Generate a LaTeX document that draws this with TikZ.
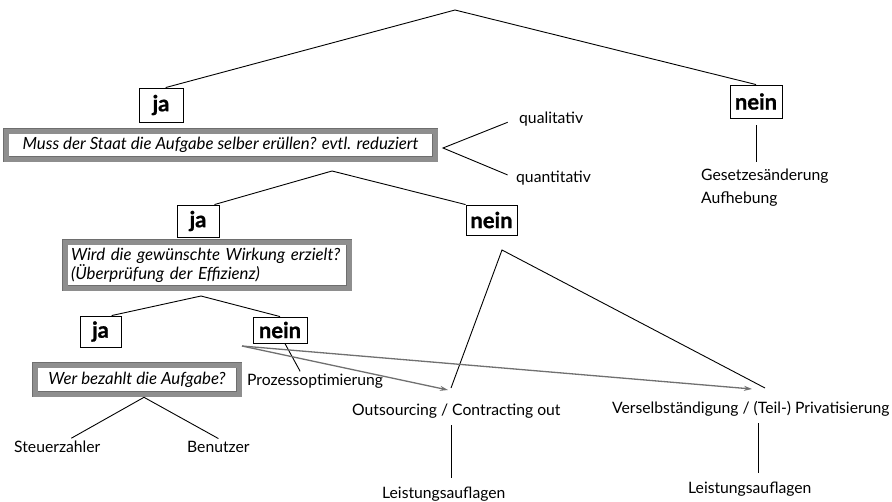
\documentclass[tikz,border=0pt]{standalone}
\usepackage{fontspec}
\setmainfont{Lato}
\newfontfamily\heavyfont[FakeBold=1.2]{Lato}
\usetikzlibrary{positioning,arrows.meta,calc}
\definecolor{framegray}{HTML}{8E8E8E}
\definecolor{framedark}{HTML}{6E6E6E}
\definecolor{arrowgray}{HTML}{707070}

\begin{document}
\begin{tikzpicture}[
		x=1pt, y=-1pt,
		answernode/.style={rectangle, draw=black, line width=0.9pt, fill=white, font=\fontsize{22}{24}\heavyfont\bfseries, inner sep=0pt, minimum height=31pt},
		questionnode/.style={rectangle, draw=framedark, double=framegray, double distance=5pt, line width=0.6pt, fill=white, font=\fontsize{16.8}{17}\selectfont\itshape, align=left, inner sep=0pt},
		textnode/.style={font=\fontsize{15.7}{17}\selectfont, inner sep=2pt},
		connector/.style={black, line width=0.9pt},
		grayarrow/.style={arrowgray, line width=1.3pt, -{Stealth[length=8pt,width=5pt]}},
		]
		\useasboundingbox (0,0) rectangle (892,501);
		
		%Nodes
		\node[answernode, minimum width=44pt, minimum height=34pt](ja1) at (161,105){ja};
		\node[answernode, minimum width=52pt, minimum height=33pt](nein1) at (756,101.5){nein};
		\node[questionnode, minimum width=429pt, minimum height=28pt](muss) at (220.5,145){Muss der Staat die Aufgabe selber erüllen? evtl. reduziert};
		\node[textnode, anchor=base west](qual) at (517,123){qualitativ};
		\node[textnode, anchor=base west](quant) at (514,182){quantitativ};
		\node[textnode, anchor=base west](gesetz) at (699,180){Gesetzesänderung};
		\node[textnode, anchor=base west](aufheb) at ([yshift=-23pt]gesetz.base west){Aufhebung};
		
		\node[answernode, minimum width=42pt, minimum height=32pt](ja2) at (198,221){ja};
		\node[answernode, minimum width=51pt, minimum height=30pt](nein2) at (491.5,220){nein};
		\node[questionnode, text width=272pt, inner xsep=6pt, minimum height=46pt](wird) at (207,265){Wird die gewünschte Wirkung erzielt?\\(Überprüfung der Effizienz)};
		
		\node[answernode, minimum width=41pt](ja3) at (100.5,331.5){ja};
		\node[answernode, minimum width=54pt, minimum height=26pt](nein3) at (280,330){nein};
		\node[questionnode, minimum width=204pt, minimum height=29pt](wer) at (137,379.5){Wer bezahlt die Aufgabe?};
		\node[textnode, anchor=base west](prozess) at (245,385){Prozessoptimierung};
		\node[textnode, anchor=base west](steuer) at (12,452){Steuerzahler};
		\node[textnode, anchor=base west](benutzer) at (185,452){Benutzer};
		
		\node[textnode, anchor=base west](outs) at (350,415){Outsourcing / Contracting out};
		\node[textnode, anchor=base west](versel) at (610,413){Verselbständigung / (Teil-) Privatisierung};
		\node[textnode, anchor=base west](leist1) at (380,498){Leistungsauflagen};
		\node[textnode, anchor=base west](leist2) at (686,493){Leistungsauflagen};
		
		%Coordinates
		\coordinate (top) at (455,10);
		\coordinate (fork) at (443,148);
		\coordinate (split2) at (332,171);
		\coordinate (split3) at (201,296);
		\coordinate (split4) at ([xshift=7pt,yshift=-3pt]wer.south);
		\coordinate (apex) at (502,250);
		\coordinate (outsend) at (451,388);
		\coordinate (verselend) at (765,388);
		\coordinate (arrowstart) at (242,346);
		\coordinate (outsarrow) at (448,390);
		\coordinate (verselarrow) at (752,389);
		
		%Lines
		\draw[connector] (ja1.75) -- (top) -- (nein1.north);
		\draw[connector, shorten <=7pt, shorten >=4pt] (nein1.south) -- (nein1.south |- gesetz.north);
		\draw[connector, shorten <=10pt, shorten >=7pt] (qual.west) -- (fork) -- (quant.west);
		\draw[connector] (ja2.45) -- (split2) -- (nein2.north west);
		\draw[connector] (outsend) -- (apex) -- (verselend);
		\draw[connector] (ja3.55) -- (split3) -- (nein3.north);
		\draw[connector] (nein3.290) -- ([xshift=-15pt]prozess.north);
		\draw[connector] ([xshift=14pt]steuer.north) -- (split4) -- (benutzer.north);
		\draw[connector, shorten <=5pt, shorten >=6pt] (outs.south -| outsend) -- (leist1.north -| outsend);
		\draw[connector, shorten <=5pt, shorten >=6pt] ([xshift=8pt]versel.south) -- ([xshift=8pt]versel.south |- leist2.north);
		
		\draw[grayarrow] (arrowstart) -- (outsarrow);
		\draw[grayarrow] (arrowstart) -- (verselarrow);
		
	\end{tikzpicture}
\end{document}
